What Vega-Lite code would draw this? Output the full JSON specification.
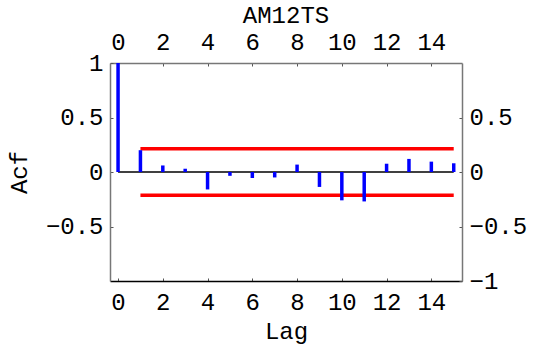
{
  "$schema": "https://vega.github.io/schema/vega-lite/v6.json",
  "autosize": "none",
  "width": 352,
  "height": 218,
  "padding": {"left": 110, "top": 63, "right": 74, "bottom": 64},
  "background": "white",
  "config": {
    "view": {"stroke": null},
    "font": "Liberation Mono",
    "axis": {"grid": false, "labelFont": "Liberation Mono", "titleFont": "Liberation Mono", "labelFontSize": 24, "titleFontSize": 24, "titleFontWeight": "normal", "labelColor": "black", "titleColor": "black", "tickColor": "#555", "tickSize": -3, "domainWidth": 1.5}
  },
  "title": {"text": "AM12TS", "font": "Liberation Mono", "fontSize": 24, "fontWeight": "normal", "color": "black", "offset": 2},
  "data": {"values": [
    {"lag": 0, "acf": 1.0},
    {"lag": 1, "acf": 0.2},
    {"lag": 2, "acf": 0.06},
    {"lag": 3, "acf": 0.03},
    {"lag": 4, "acf": -0.16},
    {"lag": 5, "acf": -0.035},
    {"lag": 6, "acf": -0.055},
    {"lag": 7, "acf": -0.05},
    {"lag": 8, "acf": 0.068},
    {"lag": 9, "acf": -0.137},
    {"lag": 10, "acf": -0.26},
    {"lag": 11, "acf": -0.27},
    {"lag": 12, "acf": 0.076},
    {"lag": 13, "acf": 0.12},
    {"lag": 14, "acf": 0.095},
    {"lag": 15, "acf": 0.08}
  ]},
  "resolve": {"axis": {"x": "independent", "y": "independent"}},
  "layer": [
    {
      "mark": {"type": "line", "color": "black", "strokeWidth": 1.5},
      "encoding": {
        "x": {"field": "lag", "type": "quantitative", "scale": {"domain": [-0.36, 15.37], "nice": false, "zero": false},
          "axis": {"orient": "bottom", "values": [0,2,4,6,8,10,12,14], "title": "Lag", "titlePadding": 5, "labelPadding": 12, "domainColor": "black"}},
        "y": {"datum": 0, "type": "quantitative", "scale": {"domain": [-1, 1], "nice": false},
          "axis": {"orient": "left", "values": [1, 0.5, 0, -0.5], "title": "Acf", "titlePadding": 14, "labelPadding": 10, "domainColor": "#777", "labelExpr": "format(datum.value, '~g')"}}
      }
    },
    {
      "transform": [{"filter": "datum.lag >= 1"}],
      "mark": {"type": "line", "color": "#ff0000", "strokeWidth": 3.5},
      "encoding": {
        "x": {"field": "lag", "type": "quantitative",
          "axis": {"orient": "top", "values": [0,2,4,6,8,10,12,14], "title": null, "labelPadding": 12, "domainColor": "#777"}},
        "y": {"datum": 0.213, "type": "quantitative",
          "axis": {"orient": "right", "values": [0.5, 0, -0.5, -1], "title": null, "labelPadding": 10, "domainColor": "#777", "labelExpr": "format(datum.value, '~g')"}}
      }
    },
    {
      "transform": [{"filter": "datum.lag >= 1"}],
      "mark": {"type": "line", "color": "#ff0000", "strokeWidth": 3.5},
      "encoding": {
        "x": {"field": "lag", "type": "quantitative", "axis": null},
        "y": {"datum": -0.213, "type": "quantitative", "axis": null}
      }
    },
    {
      "mark": {"type": "rule", "color": "#0000ff", "strokeWidth": 3.5},
      "encoding": {
        "x": {"field": "lag", "type": "quantitative", "axis": null},
        "y": {"field": "acf", "type": "quantitative", "axis": null},
        "y2": {"datum": 0}
      }
    }
  ]
}
